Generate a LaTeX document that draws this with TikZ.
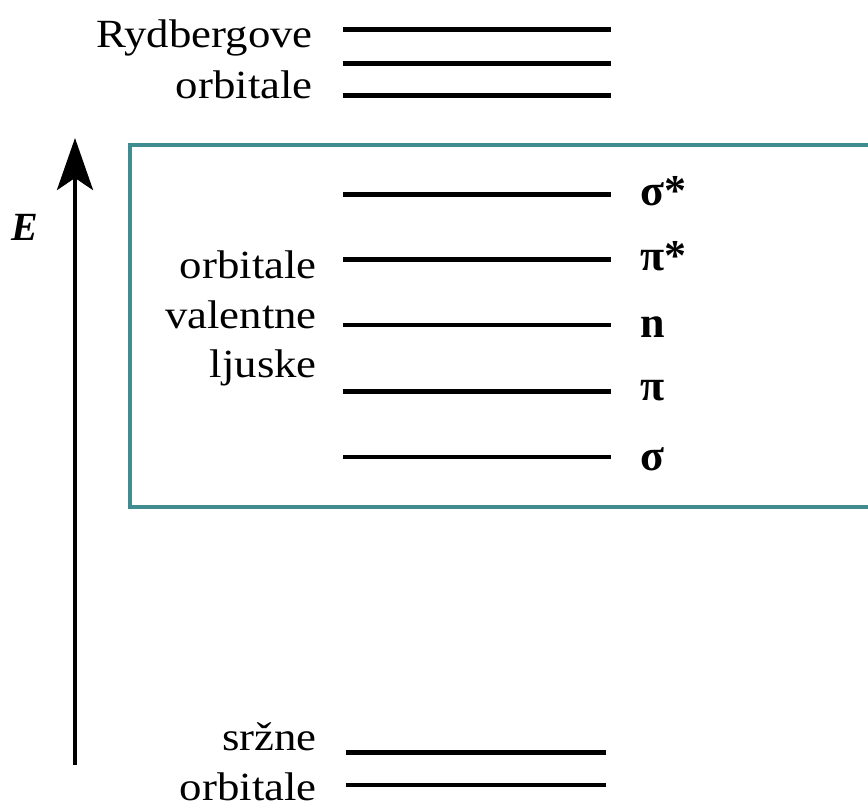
\documentclass[tikz,border=0pt]{standalone}
\usepackage{fontspec}
\setmainfont{Liberation Serif}
\newfontfamily\lblfont[FakeStretch=1.12]{Liberation Serif}
\usetikzlibrary{arrows.meta}

\definecolor{boxteal}{RGB}{64,140,145}

\tikzset{
  lbl/.style={anchor=base east, inner sep=0pt, font=\lblfont\fontsize{40}{40}\selectfont},
  grk/.style={anchor=base west, inner sep=0pt, font=\bfseries\fontsize{44}{44}\selectfont},
  thicklevel/.style={line width=5pt},
  thinlevel/.style={line width=3.6pt},
  frame/.style={draw=boxteal, line width=4pt},
  energy/.style={line width=4pt, -{Stealth[length=52pt,width=36pt,inset=12pt]}}
}

\begin{document}
\begin{tikzpicture}[x=1pt,y=-1pt]
  \useasboundingbox (0,0) rectangle (868,809);

  % valence-shell frame (open to the right)
  \draw[frame] (130,145) rectangle (900,507);

  % energy axis
  \coordinate (ebot) at (75,765);
  \coordinate (etop) at (75,138);
  \draw[energy] (ebot) -- (etop);
  \node[inner sep=0pt, font=\bfseries\itshape\fontsize{40}{40}\selectfont] (E) at (25,227) {E};

  % Rydberg levels
  \foreach \n/\y in {r1/29, r2/63, r3/95} {
    \coordinate (\n a) at (343,\y);
    \coordinate (\n b) at (611,\y);
    \draw[thicklevel] (\n a) -- (\n b);
  }
  \node[lbl] (ryd) at (313,47) {Rydbergove};
  \node[lbl] (rydorb) at (313,98) {orbitale};

  % valence levels
  \coordinate (ss1) at (343,194); \coordinate (ss2) at (611,194);
  \coordinate (ps1) at (343,259); \coordinate (ps2) at (611,259);
  \coordinate (nn1) at (343,325); \coordinate (nn2) at (611,325);
  \coordinate (pp1) at (343,391); \coordinate (pp2) at (611,391);
  \coordinate (sg1) at (343,457); \coordinate (sg2) at (611,457);
  \draw[thicklevel] (ss1) -- (ss2);
  \draw[thicklevel] (ps1) -- (ps2);
  \draw[thinlevel]  (nn1) -- (nn2);
  \draw[thicklevel] (pp1) -- (pp2);
  \draw[thinlevel]  (sg1) -- (sg2);

  \node[grk] (lss) at (640,205) {σ*};
  \node[grk] (lps) at (640,270) {π*};
  \node[grk] (lnn) at (640,337) {n};
  \node[grk] (lpp) at (640,400) {π};
  \node[grk] (lsg) at (640,470) {σ};

  \node[lbl] (vorb) at (317,278) {orbitale};
  \node[lbl] (vval) at (317,328) {valentne};
  \node[lbl] (vlj)  at (317,377) {ljuske};

  % core levels
  \coordinate (c1a) at (346,752); \coordinate (c1b) at (606,752);
  \coordinate (c2a) at (346,785); \coordinate (c2b) at (606,785);
  \draw[thicklevel] (c1a) -- (c1b);
  \draw[thinlevel]  (c2a) -- (c2b);
  \node[lbl] (srz)  at (317,750) {sržne};
  \node[lbl] (corb) at (317,800) {orbitale};
\end{tikzpicture}
\end{document}
